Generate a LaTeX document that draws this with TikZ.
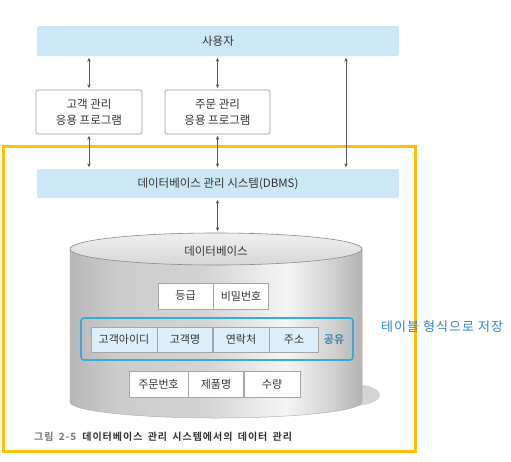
\documentclass[tikz,border=0pt]{standalone}
\usepackage{fontspec}
\setmainfont{Noto Sans CJK KR}
\newfontfamily\krbold{Noto Sans CJK KR Bold}
\newfontfamily\capfont[LetterSpace=10,WordSpace=1.6]{Noto Sans CJK KR Bold}
\newfontfamily\notefont[LetterSpace=8]{Noto Sans CJK KR}
\usetikzlibrary{arrows.meta,shapes.geometric}
\definecolor{lblue}{HTML}{CCE7F6}
\definecolor{cellblue}{HTML}{DCEFFA}
\definecolor{grpblue}{HTML}{3AA9DB}
\definecolor{txtblue}{HTML}{2E86C8}
\definecolor{sharecol}{HTML}{3F86B2}
\definecolor{frameyel}{HTML}{FFC000}
\definecolor{txtdark}{HTML}{333333}
\pgfdeclarehorizontalshading{cylshade}{100bp}{color(0bp)=(black!28);color(25bp)=(black!28);color(33bp)=(black!20);color(48bp)=(black!17);color(62bp)=(black!4);color(70bp)=(black!18);color(75bp)=(black!30);color(100bp)=(black!30)}
\begin{document}
\begin{tikzpicture}[x=1pt,y=1pt,
  bluebox/.style={fill=lblue,draw=none,rounded corners=1.5pt,font=\fontsize{11.5}{13}\selectfont,text=txtdark},
  appbox/.style={fill=white,draw=black!40,line width=0.6pt,rounded corners=2pt,align=center,font=\fontsize{11.5}{15.5}\selectfont,text=txtdark},
  link/.style={draw=black!65,line width=0.6pt,{Stealth[length=4pt,width=3.4pt]}-{Stealth[length=4pt,width=3.4pt]},shorten <=1.5pt,shorten >=1.5pt},
  cell/.style={draw=black!35,line width=0.5pt,fill=white,inner sep=0pt,minimum height=26pt,font=\fontsize{11}{12}\selectfont,text=txtdark},
  bcell/.style={cell,fill=cellblue,minimum height=25pt},
  frame/.style={draw=frameyel,line width=3pt,inner sep=0pt}
]
\useasboundingbox (0,0) rectangle (511,-461);
\fill[white] (0,0) rectangle (511,-461);

% top boxes
\node[bluebox,minimum width=362pt,minimum height=30pt] (user) at (218,-41) {사용자};
\node[appbox,minimum width=106pt,minimum height=44pt] (app1) at (89,-112) {고객 관리\\응용 프로그램};
\node[appbox,minimum width=105pt,minimum height=44pt] (app2) at (217.5,-112) {주문 관리\\응용 프로그램};

% yellow frame
\node[frame,minimum width=412pt,minimum height=305pt] (yframe) at (209,-298.5) {};

\node[bluebox,minimum width=362pt,minimum height=29pt] (dbms) at (218,-183.5) {데이터베이스 관리 시스템(DBMS)};

% cylinder
\fill[black!17] (352,-395) ellipse (28 and 11);
\path[shading=cylshade] (70,-249) -- (70,-402) arc (180:360:146 and 16) -- (362,-249) arc (0:180:146 and 16) -- cycle;
\draw[black!30,line width=0.5pt] (70,-249) -- (70,-402) arc (180:360:146 and 16) -- (362,-249);
\node[ellipse,draw=black!45,line width=0.6pt,top color=black!6,bottom color=black!16,minimum width=292pt,minimum height=32pt,inner sep=0pt] (dbtop) at (216,-249) {};
\node[font=\fontsize{11.5}{13}\selectfont,text=txtdark] (dblabel) at (216,-251) {데이터베이스};

% table 1
\node[cell,minimum width=55pt] (c11) at (185.5,-296) {등급};
\node[cell,minimum width=55pt,anchor=west] (c12) at (c11.east) {비밀번호};

% shared group
\node[draw=grpblue,line width=1.6pt,rounded corners=3pt,minimum width=272pt,minimum height=42pt,inner sep=0pt] (grp) at (217,-339) {};
\node[bcell,minimum width=66pt] (c21) at (124,-339.5) {고객아이디};
\node[bcell,minimum width=55pt,anchor=west] (c22) at (c21.east) {고객명};
\node[bcell,minimum width=56pt,anchor=west] (c23) at (c22.east) {연락처};
\node[bcell,minimum width=49pt,anchor=west] (c24) at (c23.east) {주소};
\node[font=\krbold\fontsize{11}{12}\selectfont,text=sharecol] (share) at (334,-339.5) {공유};

% table 3
\node[cell,minimum width=59pt] (c31) at (158.5,-384) {주문번호};
\node[cell,minimum width=55pt,anchor=west] (c32) at (c31.east) {제품명};
\node[cell,minimum width=56pt,anchor=west] (c33) at (c32.east) {수량};

% side note
\node[font=\notefont\fontsize{13}{14}\selectfont,text=txtblue,anchor=west,inner sep=0pt] (note) at (381,-327) {테이블 형식으로 저장};

% caption
\node[anchor=west,font=\capfont\fontsize{10}{11}\selectfont,text=txtdark,inner sep=0pt] (cap) at (34,-437) {\textcolor{black!55}{그림 2-5}\hspace{6pt}데이터베이스 관리 시스템에서의 데이터 관리};

% connectors
\coordinate (rx) at (346,0);
\draw[link] (app1.north) -- (app1.north |- user.south);
\draw[link] (app2.north) -- (app2.north |- user.south);
\draw[link] (user.south -| rx) -- (dbms.north -| rx);
\draw[link] (app1.south) -- (app1.south |- dbms.north);
\draw[link] (app2.south) -- (app2.south |- dbms.north);
\draw[link] (dbms.south -| app2.south) -- (dbtop.north -| app2.south);
\end{tikzpicture}
\end{document}
